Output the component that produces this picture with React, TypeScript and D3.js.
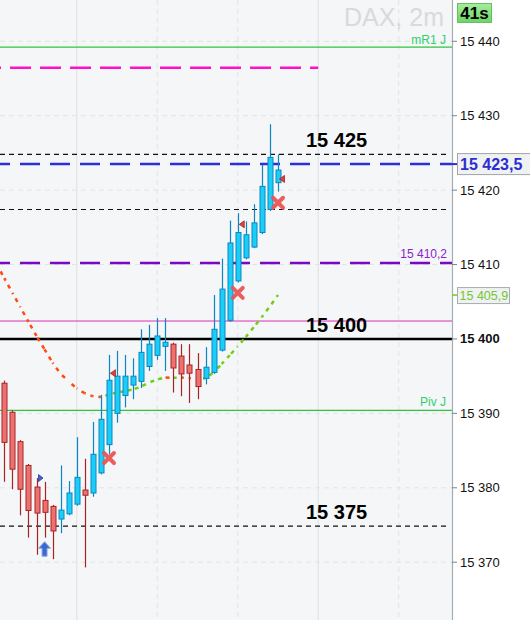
import React from "react";
import * as d3 from "d3";

const W = 530;
const H = 620;
const PLOT_RIGHT = 452;

// candles (2m), index 0..34
const opens = [15394.05, 15390.15, 15386.2, 15383.0, 15380.1, 15378.3, 15377.5, 15375.8, 15376.5, 15377.8, 15379.7, 15379.3, 15382.0, 15385.8, 15390.0, 15392.4, 15393.8, 15394.3, 15396.3, 15397.8, 15399.0, 15399.3, 15397.7, 15396.5, 15395.9, 15394.7, 15395.5, 15398.5, 15402.5, 15407.8, 15410.9, 15412.35, 15414.3, 15417.4, 15421.0];
const highs = [15394.4, 15390.4, 15386.4, 15383.2, 15381.3, 15380.8, 15377.7, 15383.0, 15380.9, 15386.8, 15383.9, 15388.85, 15392.5, 15397.85, 15398.4, 15397.85, 15397.4, 15401.3, 15401.9, 15402.8, 15402.8, 15399.5, 15399.3, 15399.3, 15398.1, 15398.9, 15405.9, 15410.8, 15415.9, 15416.9, 15415.8, 15418.1, 15423.4, 15428.85, 15424.8];
const lows = [15380.8, 15379.8, 15376.3, 15373.3, 15371.0, 15373.3, 15370.4, 15373.9, 15376.3, 15377.6, 15369.3, 15378.8, 15381.8, 15384.5, 15388.75, 15390.8, 15391.9, 15393.4, 15395.7, 15397.2, 15395.7, 15392.8, 15392.3, 15391.4, 15391.9, 15393.9, 15395.3, 15398.3, 15402.3, 15407.6, 15410.7, 15412.2, 15414.1, 15417.2, 15419.8];
const closes = [15386.1, 15382.5, 15379.8, 15376.95, 15376.6, 15376.7, 15374.2, 15377.0, 15379.3, 15381.4, 15379.0, 15384.5, 15389.2, 15394.45, 15395.0, 15395.0, 15395.0, 15398.2, 15399.3, 15400.4, 15399.55, 15396.1, 15395.3, 15395.4, 15393.6, 15396.2, 15401.3, 15406.7, 15412.9, 15414.3, 15414.0, 15415.6, 15420.5, 15424.4, 15422.7];

// moving average, starting at index -1
const maStart = -1;
const maValues = [15410.14, 15408.17, 15406.2, 15404.27, 15402.3, 15400.4, 15398.6, 15396.8, 15395.3, 15394.3, 15393.35, 15392.7, 15392.3, 15392.2, 15392.54, 15392.8, 15393.0, 15393.2, 15393.6, 15394.15, 15394.56, 15394.82, 15394.78, 15394.83, 15394.73, 15394.62, 15394.73, 15395.5, 15396.64, 15397.81, 15399.0, 15400.27, 15401.6, 15402.96, 15404.4, 15405.9];

const yTicks = [15440, 15430, 15420, 15410, 15400, 15390, 15380, 15370];
const yTickLabels = ["15 440", "15 430", "15 420", "15 410", "15 400", "15 390", "15 380", "15 370"];
const gridIdx = [9, 19, 29, 39, 49];
const hourIdx = [9, 39];

// signals
const crossIdx = [13, 29, 34];
const crossPrice = [15384.0, 15406.2, 15418.3];
const sellTriIdx = [13, 29, 34];
const sellTriPrice = [15395.4, 15415.4, 15421.5];
const buyTriIdx = [4];
const buyTriPrice = [15381.3];
const arrowIdx = [5];
const arrowPrice = [15372.75];

// levels
const thinDashedLevels = [15424.8, 15417.4, 15374.85];
const bigLabelPrices = [15424.8, 15400, 15374.85];
const bigLabels = ["15 425", "15 400", "15 375"];
const mainLevel = 15400;
const lastPrice = 15423.5;
const lastPriceLabel = "15 423,5";
const maLastLabel = "15 405,9";
const pivotLevel = 15410.2;
const pivotLabel = "15 410,2";
const mR1Level = 15439.23;
const pivJLevel = 15390.41;
const magentaDashedLevel = 15436.45;
const magentaThinLevel = 15402.41;

const FONT = "'Liberation Sans', Arial, sans-serif";

export default function App() {
  const x = d3.scaleLinear().domain([0, 34]).range([4.3, 278]);
  const y = d3.scaleLinear().domain([15370, 15440]).range([562.2, 41.3]);

  // MA segments
  const maPts = maValues.map((v, k) => [x(maStart + k), y(v)] as [number, number]);
  const segs: { d: string; color: string; off: number }[] = [];
  let cum = 0;
  for (let k = 0; k < maPts.length - 1; k++) {
    const a = maPts[k];
    const b = maPts[k + 1];
    const len = Math.hypot(b[0] - a[0], b[1] - a[1]);
    const up = maValues[k + 1] >= maValues[k];
    segs.push({
      d: d3.line()([a, b]) as string,
      color: up ? "#6fcf10" : "#ff4a12",
      off: -cum,
    });
    cum += len;
  }

  const blueFill = "#19cff7";
  const blueStroke = "#0b86c2";
  const redFill = "#ee7171";
  const redStroke = "#a82424";

  return (
    <svg width={W} height={H} style={{ position: "absolute", left: 0, top: 0, fontFamily: FONT }}>
      <defs>
        <linearGradient id="g41" x1="0" y1="0" x2="0" y2="1">
          <stop offset="0" stopColor="#a6ec9e" />
          <stop offset="1" stopColor="#6cd465" />
        </linearGradient>
        <clipPath id="plotClip">
          <rect x={0} y={0} width={PLOT_RIGHT} height={H} />
        </clipPath>
      </defs>
      <rect x={0} y={0} width={W} height={H} fill="#ffffff" />
      <rect x={0} y={0} width={PLOT_RIGHT} height={H} fill="#f4f6f7" />

      <g clipPath="url(#plotClip)">
        {/* horizontal grid */}
        {yTicks.map((t) => (
          <line key={"hg" + t} x1={0} x2={PLOT_RIGHT} y1={y(t)} y2={y(t)} stroke="#e2e4e6" strokeDasharray="5,4" />
        ))}
        {/* vertical grid */}
        {gridIdx.map((g) => (
          <line
            key={"vg" + g}
            x1={x(g)}
            x2={x(g)}
            y1={0}
            y2={H}
            stroke={hourIdx.includes(g) ? "#e3e5e7" : "#e2e4e6"}
            strokeWidth={hourIdx.includes(g) ? 1.3 : 1}
            strokeDasharray={hourIdx.includes(g) ? undefined : "5,4"}
          />
        ))}

        {/* DAX title */}
        <text x={444} y={26} textAnchor="end" fontSize={25} fill="#d8dadb">DAX, 2m</text>

        {/* levels */}
        <line x1={0} x2={PLOT_RIGHT} y1={y(mR1Level)} y2={y(mR1Level)} stroke="#2ec440" strokeWidth={1.3} />
        <text x={446} y={y(mR1Level) - 3} textAnchor="end" fontSize={12} fill="#2fd070">mR1 J</text>
        <line x1={0} x2={x(39)} y1={y(magentaDashedLevel)} y2={y(magentaDashedLevel)} stroke="#ff10cc" strokeWidth={2.5} strokeDasharray="21,9" strokeDashoffset={20} />
        {thinDashedLevels.map((l) => (
          <line key={"td" + l} x1={0} x2={448} y1={y(l)} y2={y(l)} stroke="#111" strokeWidth={1.2} strokeDasharray="5,4" />
        ))}
        <line x1={0} x2={PLOT_RIGHT} y1={y(lastPrice)} y2={y(lastPrice)} stroke="#2b2fd9" strokeWidth={2.5} strokeDasharray="20,10" strokeDashoffset={10} />
        <line x1={0} x2={PLOT_RIGHT} y1={y(pivotLevel)} y2={y(pivotLevel)} stroke="#7a08c0" strokeWidth={2.5} strokeDasharray="20,10" strokeDashoffset={10} />
        <text x={447} y={y(pivotLevel) - 5} textAnchor="end" fontSize={12} fill="#8a22c8">{pivotLabel}</text>
        <line x1={0} x2={PLOT_RIGHT} y1={y(magentaThinLevel)} y2={y(magentaThinLevel)} stroke="#d830b8" strokeWidth={1} />
        <line x1={0} x2={PLOT_RIGHT} y1={y(mainLevel)} y2={y(mainLevel)} stroke="#000" strokeWidth={2.5} />
        <line x1={0} x2={PLOT_RIGHT} y1={y(pivJLevel)} y2={y(pivJLevel)} stroke="#2ec440" strokeWidth={1.3} />
        <text x={446} y={y(pivJLevel) - 4} textAnchor="end" fontSize={12} fill="#2fd070">Piv J</text>

        {bigLabels.map((lab, k) => (
          <text key={"bl" + k} x={306} y={y(bigLabelPrices[k]) - 7} fontSize={20} fontWeight="bold" fill="#000">{lab}</text>
        ))}

        {/* moving average */}
        {segs.map((s, k) => (
          <path key={"ma" + k} d={s.d} stroke={s.color} strokeWidth={2.5} fill="none" strokeDasharray="4,5" strokeDashoffset={s.off} />
        ))}

        {/* candles */}
        {opens.map((o, i) => {
          const c = closes[i];
          const up = c >= o;
          const cx = Math.round(x(i)) + 0.5;
          const top = y(Math.max(o, c));
          const bot = y(Math.min(o, c));
          return (
            <g key={"c" + i}>
              <line x1={cx} x2={cx} y1={y(highs[i])} y2={y(lows[i])} stroke={up ? blueStroke : redStroke} strokeWidth={1.2} />
              <rect x={cx - 2.5} y={top} width={5} height={Math.max(bot - top, 1)} fill={up ? blueFill : redFill} stroke={up ? blueStroke : redStroke} strokeWidth={1} />
            </g>
          );
        })}

        {/* signals */}
        {crossIdx.map((ci, k) => {
          const cx = x(ci);
          const cy = y(crossPrice[k]);
          return (
            <path key={"x" + k} d={`M${cx - 5},${cy - 5}L${cx + 5},${cy + 5}M${cx + 5},${cy - 5}L${cx - 5},${cy + 5}`} stroke="#ea5656" strokeWidth={4} strokeLinecap="round" opacity={0.95} />
          );
        })}
        {sellTriIdx.map((ti, k) => {
          const tx = x(ti) + 1.5;
          const ty = y(sellTriPrice[k]);
          return (
            <path key={"st" + k} d={`M${tx},${ty}L${tx + 5},${ty - 3.5}L${tx + 5},${ty + 3.5}Z`} fill="#e04040" stroke="#a82020" strokeWidth={0.8} />
          );
        })}
        {buyTriIdx.map((ti, k) => {
          const tx = x(ti) + 6.5;
          const ty = y(buyTriPrice[k]);
          return (
            <path key={"bt" + k} d={`M${tx},${ty}L${tx - 4.5},${ty - 3.5}L${tx - 4.5},${ty + 3.5}Z`} fill="#3a62d0" stroke="#25409a" strokeWidth={0.8} />
          );
        })}
        {arrowIdx.map((ai, k) => {
          const ax = x(ai);
          const ay = y(arrowPrice[k]);
          return (
            <path key={"ar" + k} d={`M${ax},${ay}L${ax + 6},${ay + 6.5}L${ax + 2.5},${ay + 6.5}L${ax + 2.5},${ay + 14.5}L${ax - 2.5},${ay + 14.5}L${ax - 2.5},${ay + 6.5}L${ax - 6},${ay + 6.5}Z`} fill="#3a6ad0" stroke="#8aa8e8" strokeWidth={1} />
          );
        })}
      </g>

      {/* right axis */}
      <line x1={PLOT_RIGHT + 0.5} x2={PLOT_RIGHT + 0.5} y1={0} y2={H} stroke="#a3adb5" strokeWidth={1.2} />
      {yTicks.map((t, k) => (
        <g key={"yt" + t}>
          <line x1={PLOT_RIGHT} x2={PLOT_RIGHT + 5} y1={y(t)} y2={y(t)} stroke="#7a858e" />
          <text x={460} y={y(t) + 4.5} fontSize={13} fontWeight={t === mainLevel ? "bold" : "normal"} fill="#111">{yTickLabels[k]}</text>
        </g>
      ))}

      {/* last price box */}
      <line x1={PLOT_RIGHT} x2={PLOT_RIGHT + 5} y1={y(lastPrice)} y2={y(lastPrice)} stroke="#2b2fd9" strokeWidth={2} />
      <rect x={457.5} y={y(lastPrice) - 10.5} width={75} height={21} fill="#f0f1f2" stroke="#a0a4a8" />
      <text x={460} y={y(lastPrice) + 6} fontSize={16} fontWeight="bold" fill="#2b2fd0">{lastPriceLabel}</text>

      {/* MA last value box */}
      <line x1={PLOT_RIGHT} x2={PLOT_RIGHT + 5} y1={y(maValues[maValues.length - 1])} y2={y(maValues[maValues.length - 1])} stroke="#6fcf10" strokeWidth={1.5} />
      <rect x={457.5} y={y(maValues[maValues.length - 1]) - 7.5} width={52} height={16} fill="#f0f1f2" stroke="#a8acb0" />
      <text x={459.5} y={y(maValues[maValues.length - 1]) + 4.5} fontSize={12.5} fill="#72c830">{maLastLabel}</text>

      {/* timer */}
      <rect x={457.5} y={3.5} width={34} height={19} fill="url(#g41)" stroke="#64c060" />
      <text x={474.5} y={19} textAnchor="middle" fontSize={17} fontWeight="bold" fill="#000">41s</text>
    </svg>
  );
}
